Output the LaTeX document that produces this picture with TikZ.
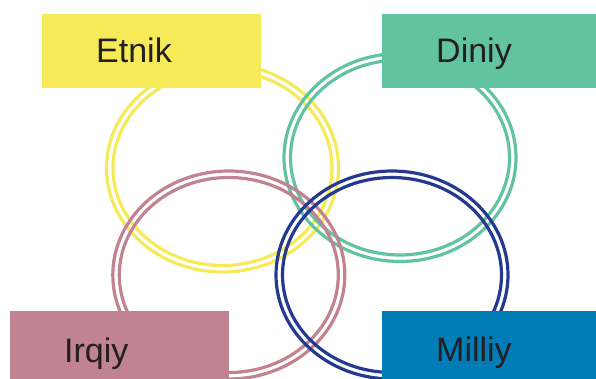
\documentclass[tikz,border=0pt]{standalone}
\usepackage{fontspec}
\setmainfont{Liberation Sans}
\definecolor{cyel}{HTML}{F6EA58}
\definecolor{cgrn}{HTML}{62C3A0}
\definecolor{cpnk}{HTML}{C18291}
\definecolor{cblu}{HTML}{007DB6}
\definecolor{cnav}{HTML}{233A8F}
\definecolor{ctxt}{HTML}{231F20}
\begin{document}
\begin{tikzpicture}[x=1pt,y=-1pt,
  ring/.style={line width=3.2pt},
  box/.style={draw=none,inner sep=0pt,anchor=north west},
  lbl/.style={anchor=base west,inner sep=0pt,text=ctxt,font=\fontsize{34}{40}\selectfont}]
\useasboundingbox (0,0) rectangle (596,379);
% rings
\foreach \c/\x/\y in {cyel/222.5/168, cgrn/400/157.5, cpnk/228.8/275, cnav/392/275}{
  \draw[ring,\c] (\x,\y) ellipse [x radius=116pt, y radius=104pt];
  \draw[ring,\c] (\x,\y) ellipse [x radius=109.5pt, y radius=97.5pt];
}
% boxes
\node[box,fill=cyel,minimum width=219pt,minimum height=74pt] (etnik) at (42,14) {};
\node[box,fill=cgrn,minimum width=214pt,minimum height=74pt] (diniy) at (382,14) {};
\node[box,fill=cpnk,minimum width=219pt,minimum height=68pt] (irqiy) at (10,311) {};
\node[box,fill=cblu,minimum width=214pt,minimum height=68pt] (milliy) at (382,311) {};
% labels
\node[lbl] (tetnik) at (96,63) {Etnik};
\node[lbl] (tdiniy) at (436,63) {Diniy};
\node[lbl] (tirqiy) at (64,362) {Irqiy};
\node[lbl] (tmilliy) at (436,361) {Milliy};
\end{tikzpicture}
\end{document}
